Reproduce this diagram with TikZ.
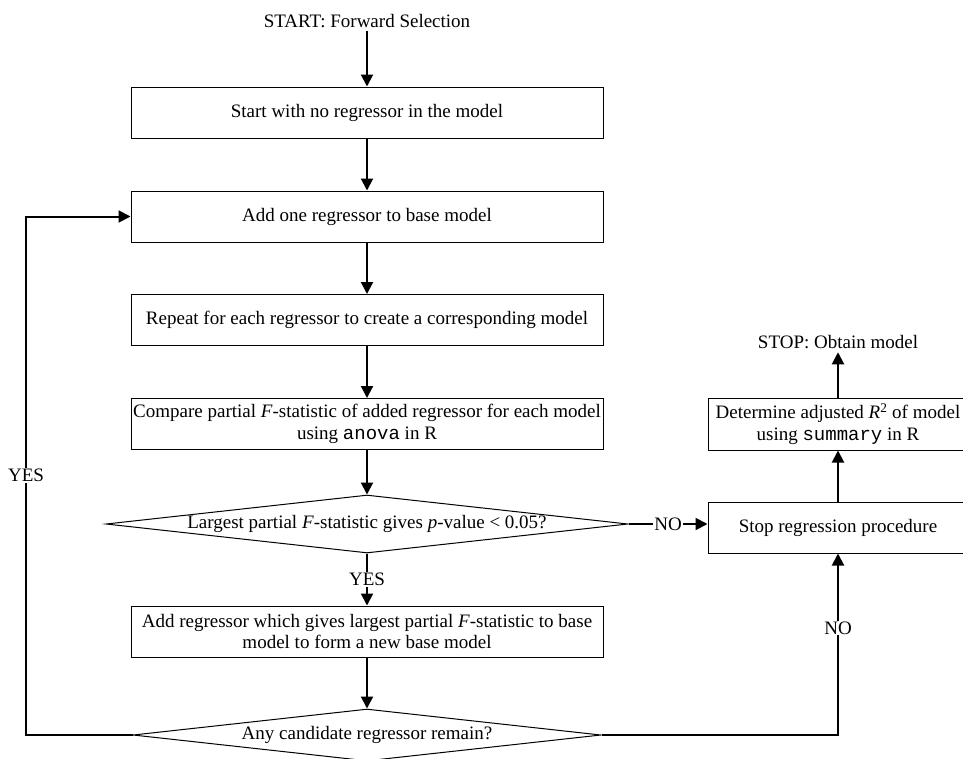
\documentclass[tikz,border=0pt]{standalone}
\usepackage{fontspec}
\setmainfont{Liberation Serif}
\setmonofont{Liberation Mono}
\usetikzlibrary{shapes.geometric, arrows.meta}

\begin{document}
\begin{tikzpicture}[x=1pt, y=-1pt,
        font=\fontsize{19}{21.5}\selectfont,
        stepbox/.style={draw, line width=1pt, minimum width=472pt, minimum height=51pt, align=center, inner sep=0pt},
        sidebox/.style={draw, line width=1pt, minimum width=260pt, minimum height=51pt, align=center, inner sep=0pt},
        decision/.style={draw, diamond, aspect=9, line width=1pt, inner sep=-3pt},
        flow/.style={line width=2pt, -{Triangle[length=12pt, width=12pt]}},
        lbl/.style={fill=white, inner sep=1pt}]

            \useasboundingbox (0,0) rectangle (963,758);

            % main column
            \node (start) at (367,21) {START: Forward Selection};
            \node[stepbox] (none) at (367,112.5) {Start with no regressor in the model};
            \node[stepbox] (addone) at (367,216.5) {Add one regressor to base model};
            \node[stepbox] (repeat) at (367,320) {Repeat for each regressor to create a corresponding model};
            \node[stepbox] (compare) at (367,424) {Compare partial \textit{F}-statistic of added regressor for each model\\using \texttt{anova} in R};
            \node[decision, minimum width=522pt, minimum height=58pt] (testF) at (367,524) {Largest partial \textit{F}-statistic gives \textit{p}-value < 0.05?};
            \node[stepbox] (addbest) at (367,631.5) {Add regressor which gives largest partial \textit{F}-statistic to base\\model to form a new base model};
            \node[decision, minimum width=468pt, minimum height=52pt] (remain) at (367,735) {Any candidate regressor remain?};

            % right column
            \node[sidebox] (halt) at (838,527.5) {Stop regression procedure};
            \node[sidebox, minimum height=52pt] (adjr) at (838,424) {Determine adjusted \textit{R}\textsuperscript{2} of model\\using \texttt{summary} in R};
            \node (finish) at (838,342) {STOP: Obtain model};

            \coordinate (loopL) at (26,735);
            \coordinate (loopR) at (838,735);

            \draw[flow] (start) -- (none);
            \draw[flow] (none) -- (addone);
            \draw[flow] (addone) -- (repeat);
            \draw[flow] (repeat) -- (compare);
            \draw[flow] (compare) -- (testF);
            \draw[flow] (testF) -- node[lbl] {YES} (addbest);
            \draw[flow] (testF.east) -- node[lbl] {NO} (testF.east -| halt.west);
            \draw[flow] (addbest) -- (remain);
            \draw[flow] (remain.west) -- (loopL) -- node[lbl] {YES} (loopL |- addone.west) -- (addone.west);
            \draw[flow] (remain.east) -- (loopR) -- node[lbl, pos=0.59] {NO} (halt.south);
            \draw[flow] (halt) -- (adjr);
            \draw[flow] (adjr) -- (finish);

        \end{tikzpicture}
\end{document}
